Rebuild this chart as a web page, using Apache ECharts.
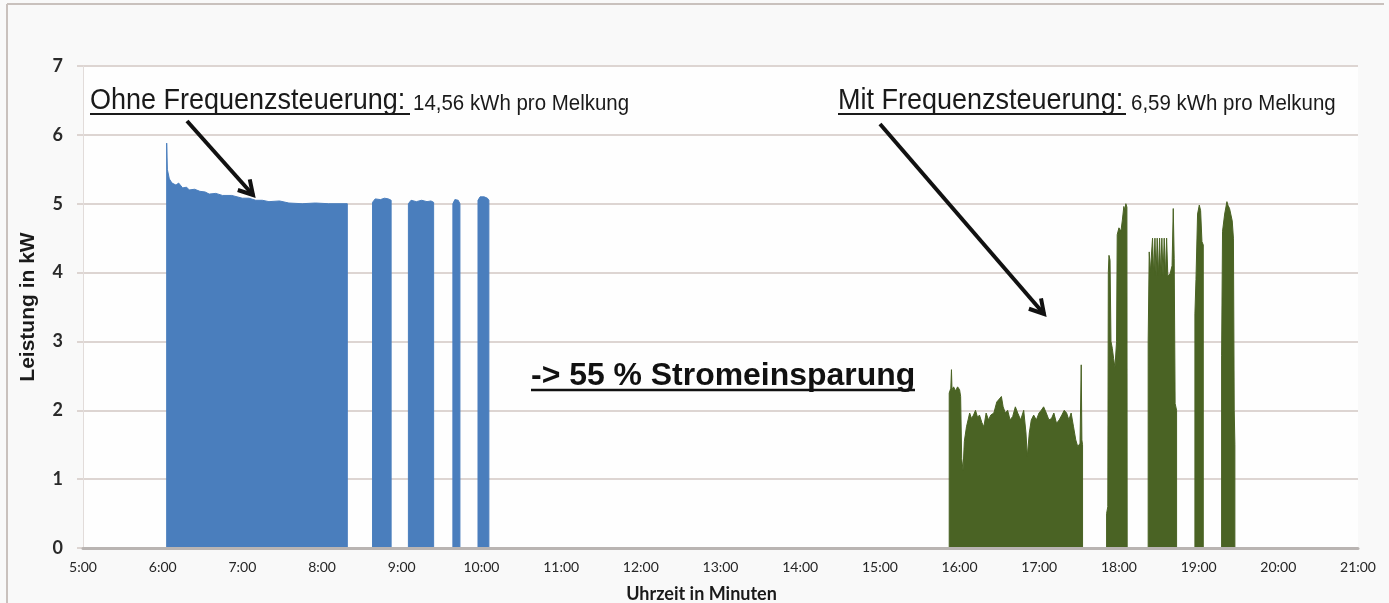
<!DOCTYPE html>
<html>
<head>
<meta charset="utf-8">
<script src="https://cdn.jsdelivr.net/npm/echarts@6/dist/echarts.min.js"></script>
<style>
html,body{margin:0;padding:0;background:#f9f9f9;}
#c{width:1389px;height:603px;}
</style>
</head>
<body>
<div id="c"></div>
<script>
// ---- tick labels ----
const xTickLabels = ['5:00','6:00','7:00','8:00','9:00','10:00','11:00','12:00','13:00','14:00','15:00','16:00','17:00','18:00','19:00','20:00','21:00'];
const yTickLabels = ['0','1','2','3','4','5','6','7'];

// ---- Ohne Frequenzsteuerung (blue) : clock time, power in kW ----
const blueTimes = [
  '6:03','6:03','6:03.5','6:05','6:07','6:10','6:12','6:15','6:18','6:20','6:24','6:28','6:32','6:35','6:40','6:45','6:52','7:00','7:05','7:10','7:15','7:20','7:28','7:35','7:45','7:55','8:05','8:12','8:19','8:19',
  '8:38','8:38','8:40','8:44','8:47','8:50','8:52','8:52',
  '9:05','9:05','9:07','9:11','9:15','9:19','9:22','9:24','9:24',
  '9:38.5','9:38.5','9:40','9:42.5','9:43.8','9:43.8',
  '9:57.4','9:57.4','9:59','10:02','10:04.5','10:05.6','10:05.6'
];
const blueKW = [
  0,5.88,5.5,5.36,5.3,5.27,5.3,5.23,5.24,5.2,5.21,5.18,5.17,5.14,5.15,5.12,5.12,5.08,5.08,5.05,5.05,5.03,5.04,5.01,5.0,5.01,5.0,5.0,5.0,0,
  0,5.02,5.07,5.06,5.08,5.07,5.05,0,
  0,5.0,5.05,5.03,5.05,5.03,5.04,5.02,0,
  0,5.0,5.06,5.05,5.0,0,
  0,5.05,5.1,5.1,5.08,5.05,0
];

// ---- Mit Frequenzsteuerung (green) ----
const greenTimes = [
  '15:52.2','15:52.2','15:53.4','15:53.9','15:54.3','15:55.5','15:57','15:58.5','16:00','16:00.8','16:01.6','16:02.6','16:03.6','16:05.2','16:06.4','16:07.6','16:09','16:10.5','16:12','16:13.5','16:15','16:16.8','16:18.3','16:20','16:21.8','16:23.5','16:25.8','16:28','16:29.5','16:31.5','16:32.8','16:34.5','16:36.2','16:38','16:40','16:42','16:43.8','16:46','16:48.3','16:50','16:51','16:52.5','16:54','16:55.8','16:57.8','16:59.8','17:01.5','17:03.3','17:05.3','17:07.3','17:09.2','17:11','17:13','17:15','17:17','17:18.8','17:20.6','17:22.3','17:24','17:25.8','17:27.5','17:29','17:30.7','17:31.6','17:32.1','17:32.6','17:32.6',
  '17:50.7','17:50.7','17:51.6','17:52','17:52.5','17:53.3','17:54','17:55','17:56','17:57','17:58.2','17:58.7','18:00','18:01.5','18:02.5','18:03.7','18:04.5','18:05.2','18:06','18:06.2',
  '18:22','18:22','18:22.8','18:23.6','18:25.3','18:26.2','18:27.1','18:28','18:28.8','18:29.7','18:30.6','18:31.5','18:32.3','18:33.2','18:34.1','18:35','18:35.9','18:36.8','18:38.5','18:40','18:40.9','18:41.6','18:42.3','18:43.4','18:43.4',
  '18:57.2','18:57.2','18:58','18:59.2','19:00.5','19:01.5','19:02.5','19:03.5','19:03.5',
  '19:17.3','19:17.3','19:18','19:19.6','19:21.3','19:22','19:23.3','19:25.3','19:26.2','19:26.8','19:27.3','19:27.3'
];
const greenKW = [
  0,2.25,2.32,2.59,2.3,2.34,2.28,2.34,2.3,2.2,1.3,1.13,1.55,1.76,1.86,1.96,1.88,1.93,2.0,1.9,1.93,1.82,1.76,1.96,1.86,1.93,1.96,2.12,2.1,2.2,2.05,1.96,2.0,1.86,1.91,2.05,1.96,1.86,2.0,1.67,1.33,1.67,1.86,1.93,1.86,1.96,2.0,2.05,1.96,1.86,1.88,1.96,1.81,1.86,1.93,2.0,1.96,1.86,1.96,1.76,1.57,1.47,1.52,2.66,1.57,1.5,0,
  0,0.5,0.6,4.0,4.25,4.18,3.0,2.9,2.75,2.62,3.0,4.55,4.65,4.6,4.75,4.96,4.9,5.0,4.95,0,
  0,3.0,4.3,4.0,4.5,3.95,4.5,3.95,4.5,3.95,4.5,3.95,4.5,3.95,4.5,3.95,4.5,3.95,3.98,4.1,4.93,4.2,2.1,2.0,0,
  0,3.4,3.9,4.85,4.98,4.9,4.45,4.4,0,
  0,2.8,4.6,4.85,5.03,4.98,4.93,4.75,4.5,2.0,1.5,0
];

function toHours(s){ const p = s.split(':'); return Number(p[0]) + Number(p[1]) / 60; }
function pairs(times, vals){ return times.map((t, i) => [toHours(t), vals[i]]); }

const BLUE = '#4a7ebd';
const GREEN = '#4a6324';
const GRID = '#ddd5d2';

const chart = echarts.init(document.getElementById('c'), null, {renderer: 'canvas'});

function arrow(x1, y1, x2, y2){
  const a = Math.atan2(y2 - y1, x2 - x1);
  const L = 16, w = Math.PI / 6;
  const p1 = [x2 - L * Math.cos(a - w), y2 - L * Math.sin(a - w)];
  const p2 = [x2 - L * Math.cos(a + w), y2 - L * Math.sin(a + w)];
  return [
    {type: 'line', z: 100, shape: {x1: x1, y1: y1, x2: x2, y2: y2}, style: {stroke: '#111', lineWidth: 4}},
    {type: 'polyline', z: 100, shape: {points: [p1, [x2, y2], p2]}, style: {stroke: '#111', lineWidth: 4, fill: null, lineJoin: 'miter'}}
  ];
}

const option = {
  backgroundColor: '#f9f9f9',
  animation: false,
  grid: {left: 83, right: 31, top: 66, bottom: 55, show: true, backgroundColor: '#fefefe', borderWidth: 0,
         containLabel: false, outerBoundsMode: 'none'},
  xAxis: {
    type: 'value', min: 5, max: 21, interval: 1, z: 5,
    axisLine: {show: true, lineStyle: {color: '#b9b4b2', width: 3}},
    axisTick: {show: false},
    splitLine: {show: false},
    axisLabel: {
      margin: 12, color: '#262626', fontFamily: 'Lato', fontSize: 14,
      showMinLabel: true, showMaxLabel: true,
      formatter: v => xTickLabels[Math.round(v - 5)]
    },
    name: 'Uhrzeit in Minuten', nameLocation: 'middle', nameGap: 37,
    nameTextStyle: {fontFamily: 'Lato', fontWeight: 'bold', fontSize: 18, color: '#1a1a1a', padding: [0, 38, 0, 0]}
  },
  yAxis: {
    type: 'value', min: 0, max: 7, interval: 1,
    axisLine: {show: true, lineStyle: {color: '#e2dcda', width: 1}},
    axisTick: {show: true, length: 6, lineStyle: {color: GRID, width: 2}},
    splitLine: {show: true, lineStyle: {color: GRID, width: 2}},
    axisLabel: {
      margin: 20, color: '#2a2a2a', fontFamily: 'Lato', fontWeight: 'bold', fontSize: 18,
      formatter: v => yTickLabels[Math.round(v)]
    },
    name: 'Leistung in kW', nameLocation: 'middle', nameGap: 44, nameRotate: 90,
    nameTextStyle: {fontFamily: 'Liberation Sans', fontWeight: 'bold', fontSize: 21, color: '#1a1a1a'}
  },
  series: [
    {
      name: 'Ohne Frequenzsteuerung', type: 'line', data: pairs(blueTimes, blueKW),
      showSymbol: false, symbol: 'none', lineStyle: {color: BLUE, width: 1}, itemStyle: {color: BLUE},
      areaStyle: {color: BLUE, opacity: 1}
    },
    {
      name: 'Mit Frequenzsteuerung', type: 'line', data: pairs(greenTimes, greenKW),
      showSymbol: false, symbol: 'none', lineStyle: {color: GREEN, width: 1}, itemStyle: {color: GREEN},
      areaStyle: {color: GREEN, opacity: 1}
    }
  ],
  graphic: [
    // frame
    {type: 'line', z: 100, shape: {x1: 7, y1: 4, x2: 1384, y2: 4}, style: {stroke: '#c9c1bd', lineWidth: 2}},
    {type: 'line', z: 100, shape: {x1: 7, y1: 4, x2: 7, y2: 603}, style: {stroke: '#c9c1bd', lineWidth: 2}},
    // annotations
    {type: 'text', z: 100, x: 90, y: 101, scaleX: 0.9,
      style: {text: 'Ohne Frequenzsteuerung:', font: '30px "Liberation Sans"', fill: '#1a1a1a', textAlign: 'left', textVerticalAlign: 'middle'}},
    {type: 'line', z: 100, shape: {x1: 90, y1: 114, x2: 410, y2: 114}, style: {stroke: '#1a1a1a', lineWidth: 2}},
    {type: 'text', z: 100, x: 413, y: 103.5, scaleX: 0.93,
      style: {text: '14,56 kWh pro Melkung', font: '22px "Liberation Sans"', fill: '#1a1a1a', textAlign: 'left', textVerticalAlign: 'middle'}},
    {type: 'text', z: 100, x: 838, y: 101, scaleX: 0.9,
      style: {text: 'Mit Frequenzsteuerung:', font: '30px "Liberation Sans"', fill: '#1a1a1a', textAlign: 'left', textVerticalAlign: 'middle'}},
    {type: 'line', z: 100, shape: {x1: 838, y1: 114, x2: 1126, y2: 114}, style: {stroke: '#1a1a1a', lineWidth: 2}},
    {type: 'text', z: 100, x: 1131, y: 103.5, scaleX: 0.93,
      style: {text: '6,59 kWh pro Melkung', font: '22px "Liberation Sans"', fill: '#1a1a1a', textAlign: 'left', textVerticalAlign: 'middle'}},
    {type: 'text', z: 100, x: 531, y: 376, scaleX: 1.03,
      style: {text: '-> 55 % Stromeinsparung', font: 'bold 31px "Liberation Sans"', fill: '#111', textAlign: 'left', textVerticalAlign: 'middle'}},
    {type: 'line', z: 100, shape: {x1: 531, y1: 390, x2: 915, y2: 390}, style: {stroke: '#111', lineWidth: 2.5}}
  ].concat(arrow(187, 121, 253, 195)).concat(arrow(880, 124, 1044, 314))
};
chart.setOption(option);
</script>
</body>
</html>
